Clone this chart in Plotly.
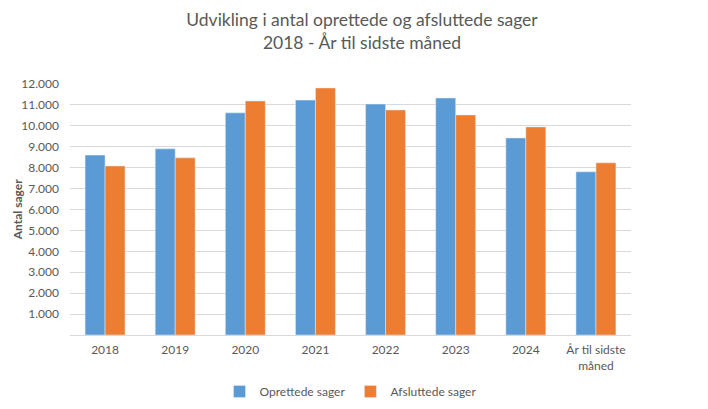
import plotly.graph_objects as go

categories = ["2018", "2019", "2020", "2021", "2022", "2023", "2024", "År til sidste<br>måned"]
oprettede = [8600, 8900, 10620, 11230, 11040, 11330, 9420, 7800]
afsluttede = [8080, 8470, 11190, 11810, 10760, 10520, 9950, 8230]
ytick_vals = [1000, 2000, 3000, 4000, 5000, 6000, 7000, 8000, 9000, 10000, 11000, 12000]
ytick_text = ["1.000", "2.000", "3.000", "4.000", "5.000", "6.000", "7.000", "8.000", "9.000", "10.000", "11.000", "12.000"]

FONT = "Lato, Open Sans, sans-serif"
GREY = "#595959"

fig = go.Figure()
fig.add_trace(go.Bar(name="Oprettede sager", x=categories, y=oprettede, marker_color="#5B9BD5"))
fig.add_trace(go.Bar(name="Afsluttede sager", x=categories, y=afsluttede, marker_color="#ED7D31"))

fig.update_layout(
    width=708, height=409,
    margin=dict(l=62, r=85, t=76, b=82, autoexpand=False),
    paper_bgcolor="white", plot_bgcolor="white",
    font=dict(family=FONT, color=GREY, size=12),
    barmode="group", bargap=0.43, bargroupgap=0,
    title=dict(text="Udvikling i antal oprettede og afsluttede sager<br>2018 - År til sidste måned",
               x=0.5, xanchor="center", xref="container", y=0.955, yanchor="top", yref="container",
               font=dict(size=17.5, color=GREY, family=FONT)),
    legend=dict(orientation="h", x=0.5, xanchor="center", y=-0.225, yanchor="middle",
                font=dict(size=12, color=GREY), itemwidth=30, traceorder="normal"),
    showlegend=True,
)
fig.update_yaxes(range=[0, 12000], tickvals=ytick_vals, ticktext=ytick_text, automargin=False,
                 showgrid=True, gridcolor="#D9D9D9", gridwidth=1, zeroline=False,
                 showline=False, ticks="", ticklabelstandoff=10, tickfont=dict(size=12, color=GREY))
fig.update_xaxes(showline=True, linecolor="#D9D9D9", linewidth=1, ticks="", automargin=False,
                 tickfont=dict(size=12, color=GREY), ticklabelstandoff=4)
fig.add_annotation(text="<b>Antal sager</b>", textangle=-90, xref="paper", yref="paper",
                   x=-0.093, y=0.5, xanchor="center", yanchor="middle", showarrow=False,
                   font=dict(size=12, color=GREY, family=FONT))

fig.write_html("out.html")
